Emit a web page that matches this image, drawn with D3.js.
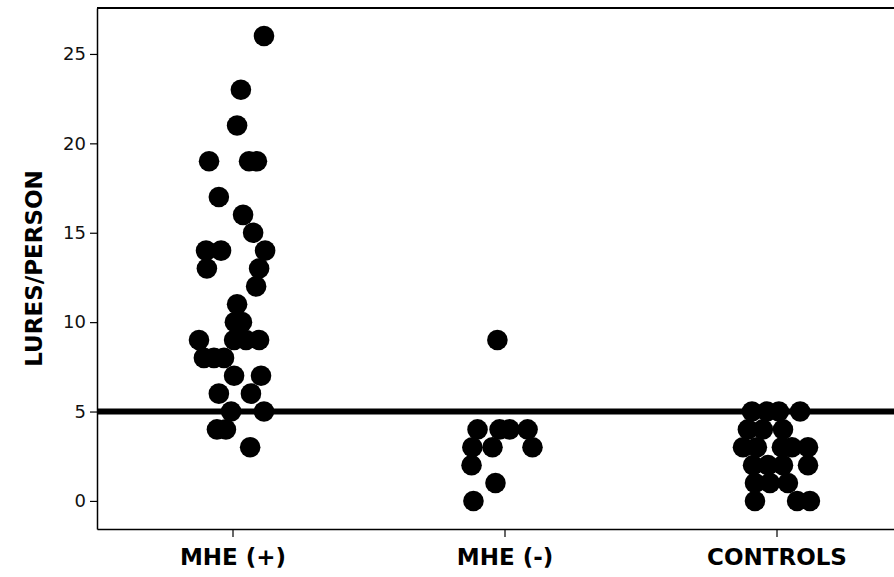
<!DOCTYPE html>
<html>
<head>
<meta charset="utf-8">
<script src="https://cdn.jsdelivr.net/npm/d3@7"></script>
<style>
html,body{margin:0;padding:0;background:#fff;}
svg{display:block;}
</style>
</head>
<body>
<svg id="chart" width="894" height="577"></svg>
<script>
// ---- data ----
const categories = ["MHE (+)", "MHE (-)", "CONTROLS"];
const yTicks = [0, 5, 10, 15, 20, 25];
const threshold = 5;

// lures per person for each group
const mhePlusValues  = [26,23,21,19,19,19,17,16,15,14,14,14,13,13,12,11,10,10,9,9,9,9,8,8,8,7,7,6,6,5,5,4,4,3];
// horizontal jitter within the group (in hundredths of a category step)
const mhePlusJitter  = [11.4,2.9,1.5,-8.8,5.9,8.8,-5.2,3.7,7.4,-9.9,-4.4,11.8,-9.6,9.6,8.5,1.5,0.7,3.3,-12.5,0.4,4.8,9.6,-10.7,-7.0,-3.3,0.4,10.3,-5.2,6.6,-0.7,11.4,-5.9,-2.6,6.3];

const mheMinusValues = [9,4,4,4,4,3,3,3,2,1,0];
const mheMinusJitter = [-2.8,-10.1,-2.0,1.7,8.3,-12.0,-4.6,10.1,-12.3,-3.5,-11.6];

const controlValues  = [5,5,5,5,4,4,4,3,3,3,3,3,2,2,2,2,1,1,1,0,0,0];
const controlJitter  = [-9.2,-3.7,0.7,8.5,-10.7,-5.2,2.2,-12.5,-7.4,1.8,5.5,11.4,-8.8,-3.3,2.2,11.4,-8.1,-2.6,4.0,-8.1,7.4,12.1];

const groups = [
  {cat: categories[0], values: mhePlusValues,  jitter: mhePlusJitter},
  {cat: categories[1], values: mheMinusValues, jitter: mheMinusJitter},
  {cat: categories[2], values: controlValues,  jitter: controlJitter}
];

// ---- layout ----
const svg = d3.select("#chart");
const mLeft = 97, mRight = 913, mTop = 8, mBottom = 529;
const yMin = -1.57, yMax = 27.57;

const x = d3.scaleBand().domain(categories).range([mLeft, mRight]).padding(0);
const y = d3.scaleLinear().domain([yMin, yMax]).range([mBottom, mTop]);
const jit = d3.scaleLinear().domain([0, 100]).range([0, x.step()]);

// frame top line
svg.append("line")
  .attr("x1", mLeft).attr("x2", 894)
  .attr("y1", y(yMax)).attr("y2", y(yMax))
  .attr("stroke", "#000").attr("stroke-width", 2);

// y axis
const yAxis = svg.append("g")
  .attr("transform", `translate(${mLeft},0)`)
  .call(d3.axisLeft(y).tickValues(yTicks).tickSize(7).tickPadding(4).tickSizeOuter(0));
yAxis.select(".domain").attr("stroke-width", 1.5);
yAxis.selectAll(".tick line").attr("stroke-width", 1.2);
yAxis.selectAll("text")
  .attr("font-family", "DejaVu Sans, Verdana, sans-serif")
  .attr("font-size", 18).attr("fill", "#111");

// x axis
const xAxis = svg.append("g")
  .attr("transform", `translate(0,${mBottom})`)
  .call(d3.axisBottom(x).tickSize(8).tickPadding(12).tickSizeOuter(0));
xAxis.select(".domain").attr("stroke-width", 1.5);
xAxis.selectAll(".tick line").attr("stroke-width", 1.2);
xAxis.selectAll("text")
  .attr("font-family", "DejaVu Sans, Verdana, sans-serif")
  .attr("font-weight", "bold")
  .attr("font-size", 23).attr("fill", "#000");

// y label
svg.append("text")
  .attr("transform", `translate(42,${(mTop + mBottom) / 2}) rotate(-90)`)
  .attr("text-anchor", "middle")
  .attr("font-family", "DejaVu Sans, Verdana, sans-serif")
  .attr("font-weight", "bold")
  .attr("font-size", 23)
  .text("LURES/PERSON");

// threshold line
svg.append("line")
  .attr("x1", mLeft).attr("x2", 894)
  .attr("y1", y(threshold)).attr("y2", y(threshold))
  .attr("stroke", "#000").attr("stroke-width", 6);

// points
groups.forEach(g => {
  const cx = x(g.cat) + x.bandwidth() / 2;
  svg.append("g").selectAll("circle")
    .data(g.values.map((v, i) => ({v, j: g.jitter[i]})))
    .join("circle")
    .attr("cx", d => cx + jit(d.j))
    .attr("cy", d => y(d.v))
    .attr("r", 10.3)
    .attr("fill", "#000");
});
</script>
</body>
</html>
